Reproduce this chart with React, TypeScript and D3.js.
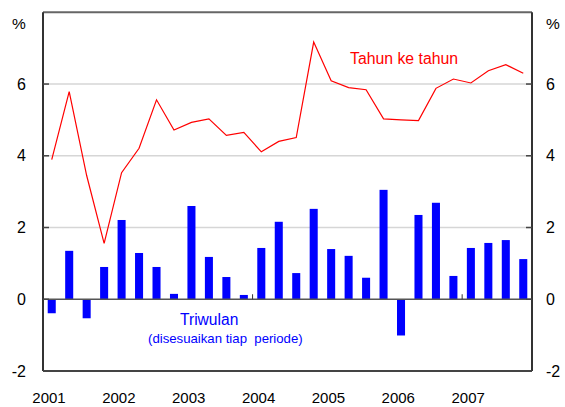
import React from "react";
import * as d3 from "d3";

const years = ["2001", "2002", "2003", "2004", "2005", "2006", "2007"];
const quarters = years.flatMap((y) => ["Q1", "Q2", "Q3", "Q4"].map((q) => `${y}${q}`));
const quarterly = [
  -0.39, 1.35, -0.53, 0.9,
  2.21, 1.29, 0.9, 0.15,
  2.6, 1.18, 0.62, 0.12,
  1.43, 2.16, 0.73, 2.52,
  1.4, 1.21, 0.6, 3.05,
  -1.01, 2.35, 2.69, 0.65,
  1.43, 1.57, 1.65, 1.12,
];
const yearOnYear = [
  3.89, 5.79, 3.45, 1.56,
  3.53, 4.21, 5.56, 4.72,
  4.93, 5.03, 4.57, 4.65,
  4.11, 4.4, 4.51, 7.17,
  6.09, 5.9, 5.84, 5.03,
  5.0, 4.98, 5.88, 6.14,
  6.03, 6.37, 6.54, 6.3,
];
const yTicks = [-2, 0, 2, 4, 6];
const markerYears = ["2004", "2007"];

export default function App() {
  const W = 565, H = 407;
  const left = 43, right = 532, top = 12.3, bottom = 371;
  const x = d3.scaleBand<string>().domain(quarters).range([left, right]).paddingInner(0.54).paddingOuter(0.27);
  const xs = d3.scaleBand<string>().domain(quarters).range([left, right]);
  const y = d3.scaleLinear().domain([-2, 8]).range([bottom, top]);
  const line = d3
    .line<number>()
    .x((_, i) => (xs(quarters[i]) as number) + xs.bandwidth() / 2)
    .y((d) => y(d));
  const font = "'Liberation Sans', Arial, sans-serif";

  return (
    <svg width={W} height={H} style={{ position: "absolute", left: 0, top: 0, display: "block" }} fontFamily={font}>
      <rect width={W} height={H} fill="#fff" />
      {yTicks.filter((t) => t > 0).map((t) => (
        <line key={"g" + t} x1={left} x2={right} y1={y(t)} y2={y(t)} stroke="#d6d6d6" strokeWidth={1.5} />
      ))}
      {quarterly.map((v, i) => (
        <rect
          key={"b" + i}
          x={x(quarters[i])}
          width={x.bandwidth()}
          y={Math.min(y(v), y(0))}
          height={Math.abs(y(v) - y(0))}
          fill="#0000ff"
        />
      ))}
      <line x1={left} x2={right} y1={y(0)} y2={y(0)} stroke="#555" strokeWidth={1.5} />
      {markerYears.map((yr) => (
        <line key={"m" + yr} x1={xs(yr + "Q1")} x2={xs(yr + "Q1")} y1={y(0) - 5} y2={y(0)} stroke="#333" strokeWidth={1} />
      ))}
      <path d={line(yearOnYear) || ""} fill="none" stroke="#ff0000" strokeWidth={1.2} />
      <line x1={left} x2={right} y1={top} y2={top} stroke="#666" strokeWidth={2} />
      <line x1={left} x2={right} y1={bottom} y2={bottom} stroke="#444" strokeWidth={2} />
      <line x1={left} x2={left} y1={top} y2={bottom} stroke="#333" strokeWidth={2} />
      <line x1={right} x2={right} y1={top} y2={bottom} stroke="#333" strokeWidth={2} />
      {yTicks.map((t) => (
        <g key={"t" + t}>
          <line x1={left} x2={left + 6} y1={y(t)} y2={y(t)} stroke="#444" strokeWidth={1.5} />
          <line x1={right - 6} x2={right} y1={y(t)} y2={y(t)} stroke="#444" strokeWidth={1.5} />
          <text x={26} y={y(t)} dy="0.35em" textAnchor="end" fontSize={16} fill="#000">{t}</text>
          <text x={546} y={y(t)} dy="0.35em" textAnchor="start" fontSize={16} fill="#000">{t}</text>
        </g>
      ))}
      <text x={19} y={24} dy="0.35em" textAnchor="middle" fontSize={15.5} fill="#000">%</text>
      <text x={553} y={24} dy="0.35em" textAnchor="middle" fontSize={15.5} fill="#000">%</text>
      {years.map((yr) => (
        <text key={"y" + yr} x={(xs(yr + "Q1") as number) + 6} y={398} dy="0.35em" textAnchor="middle" fontSize={15} fill="#000">{yr}</text>
      ))}
      <text x={350} y={64} fontSize={15.8} fill="#ff0000">Tahun ke tahun</text>
      <text x={180} y={325} fontSize={15.6} fill="#0000ff">Triwulan</text>
      <text x={148} y={343} fontSize={13.2} fill="#0000ff" style={{ whiteSpace: "pre" }}>(disesuaikan tiap  periode)</text>
    </svg>
  );
}
